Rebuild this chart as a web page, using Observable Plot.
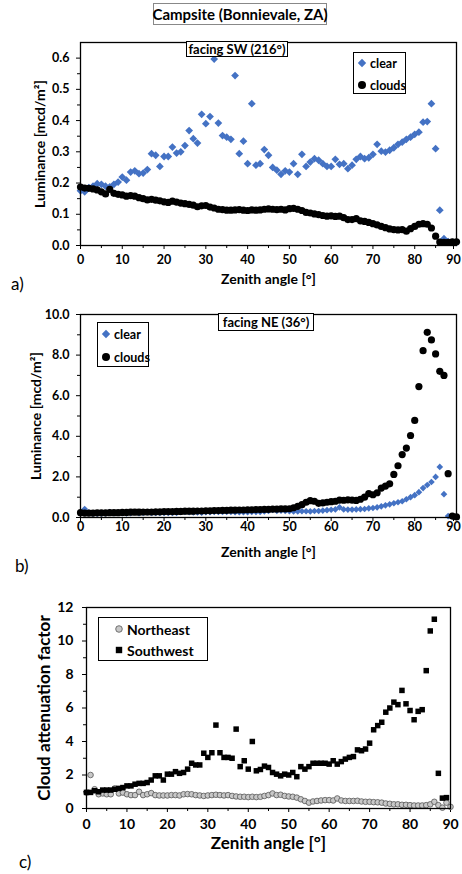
<!DOCTYPE html>
<html><head><meta charset="utf-8">
<script src="https://cdn.jsdelivr.net/npm/d3@7"></script>
<script src="https://cdn.jsdelivr.net/npm/@observablehq/plot@0.6"></script>
<style>
body{margin:0;background:#fff;font-family:Lato,sans-serif;color:#000;}
#wrap{position:relative;width:462px;height:874px;overflow:hidden;background:#fff;}
.panel{position:absolute;left:0;}
.box{position:absolute;background:#fff;border:1px solid #000;font-weight:bold;white-space:nowrap;text-align:center;box-sizing:border-box;display:flex;align-items:center;justify-content:center;}
.leg{position:absolute;background:#fff;border:1px solid #000;box-sizing:border-box;font-weight:bold;}
.row{position:absolute;white-space:nowrap;display:flex;align-items:center;height:16px;}
.row svg{margin-right:3px;}
.lab{position:absolute;font-size:17px;line-height:17px;}
</style></head><body><div id="wrap"></div>
<script>
const zenith = [0,1,2,3,4,5,6,7,8,9,10,11,12,13,14,15,16,17,18,19,20,21,22,23,24,25,26,27,28,29,30,31,32,33,34,35,36,37,38,39,40,41,42,43,44,45,46,47,48,49,50,51,52,53,54,55,56,57,58,59,60,61,62,63,64,65,66,67,68,69,70,71,72,73,74,75,76,77,78,79,80,81,82,83,84,85,86,87,88,89,90];

// a) facing SW, luminance [mcd/m2]
const swClear = [0.175,0.172,0.185,0.19,0.198,0.196,0.19,0.188,0.196,0.203,0.219,0.209,0.235,0.239,0.23,0.232,0.243,0.294,0.289,0.253,0.285,0.285,0.315,0.296,0.3,0.32,0.368,0.342,0.328,0.42,0.39,0.413,0.597,0.392,0.352,0.347,0.34,0.544,0.294,0.334,0.262,0.454,0.257,0.262,0.307,0.289,0.25,0.241,0.228,0.239,0.235,0.262,0.228,0.292,0.253,0.267,0.278,0.273,0.262,0.253,0.253,0.276,0.26,0.262,0.246,0.257,0.276,0.285,0.278,0.281,0.292,0.324,0.302,0.299,0.305,0.313,0.324,0.331,0.34,0.347,0.356,0.363,0.395,0.397,0.454,0.31,0.113,0.022,0.012,0.01,0.01];
const swClouds = [0.187,0.184,0.183,0.181,0.178,0.172,0.165,0.18,0.167,0.164,0.162,0.158,0.16,0.158,0.153,0.15,0.146,0.148,0.145,0.143,0.14,0.138,0.142,0.139,0.136,0.134,0.132,0.129,0.124,0.127,0.128,0.123,0.12,0.116,0.115,0.113,0.113,0.114,0.115,0.113,0.112,0.114,0.113,0.114,0.116,0.117,0.116,0.115,0.116,0.114,0.118,0.119,0.116,0.112,0.106,0.104,0.101,0.099,0.096,0.094,0.095,0.093,0.094,0.089,0.083,0.083,0.086,0.079,0.077,0.074,0.07,0.066,0.061,0.057,0.053,0.051,0.05,0.051,0.046,0.054,0.061,0.068,0.07,0.068,0.056,0.03,0.011,0.01,0.01,0.012,0.012];

// b) facing NE, luminance [mcd/m2]
const neClear = [0.22,0.42,0.25,0.19,0.19,0.19,0.2,0.27,0.21,0.22,0.21,0.2,0.21,0.26,0.21,0.23,0.25,0.22,0.22,0.22,0.23,0.23,0.23,0.23,0.26,0.27,0.26,0.25,0.25,0.24,0.26,0.26,0.28,0.27,0.27,0.28,0.27,0.26,0.26,0.26,0.26,0.27,0.27,0.27,0.3,0.32,0.37,0.33,0.34,0.32,0.31,0.3,0.3,0.31,0.31,0.3,0.32,0.32,0.34,0.36,0.38,0.4,0.5,0.4,0.39,0.39,0.4,0.41,0.42,0.45,0.47,0.5,0.55,0.6,0.65,0.7,0.75,0.8,0.9,1.0,1.1,1.25,1.45,1.6,1.75,2.0,2.49,1.15,0.07,0.05,0.02];
const neClouds = [0.24,0.22,0.22,0.22,0.23,0.23,0.23,0.24,0.24,0.24,0.25,0.25,0.26,0.26,0.26,0.27,0.27,0.27,0.28,0.28,0.29,0.29,0.29,0.3,0.3,0.31,0.31,0.31,0.32,0.32,0.33,0.33,0.34,0.34,0.35,0.35,0.36,0.36,0.37,0.37,0.38,0.38,0.39,0.39,0.4,0.4,0.41,0.41,0.42,0.42,0.43,0.48,0.55,0.63,0.75,0.83,0.8,0.7,0.72,0.75,0.78,0.8,0.86,0.85,0.87,0.86,0.84,0.9,1.0,1.18,1.12,1.22,1.45,1.55,1.66,2.12,2.55,3.1,3.42,4.04,4.78,6.45,8.22,9.12,8.75,8.06,7.2,7.0,2.16,0.07,0.03];

// c) cloud attenuation factor
const attNE = [0.95,2.0,1.15,0.85,0.9,0.85,0.85,1.2,0.9,0.95,0.85,0.8,0.8,1.0,0.8,0.85,0.92,0.8,0.78,0.78,0.78,0.8,0.8,0.78,0.85,0.86,0.85,0.8,0.78,0.75,0.78,0.8,0.82,0.8,0.78,0.8,0.75,0.72,0.7,0.7,0.68,0.7,0.68,0.7,0.75,0.8,0.9,0.8,0.82,0.75,0.72,0.7,0.65,0.55,0.45,0.35,0.42,0.45,0.48,0.5,0.5,0.48,0.6,0.48,0.45,0.45,0.45,0.46,0.42,0.4,0.4,0.38,0.37,0.35,0.3,0.28,0.25,0.25,0.22,0.22,0.2,0.18,0.18,0.18,0.2,0.25,0.4,0.2,0.05,0.35,0.1];
const attSW = [0.96,0.96,1.06,1.0,1.1,1.1,1.1,1.15,1.2,1.25,1.35,1.35,1.45,1.5,1.5,1.55,1.7,1.95,1.95,1.7,2.05,2.05,2.2,2.1,2.15,2.35,2.7,2.6,2.6,3.3,3.05,3.33,4.98,3.33,3.05,3.05,3.0,4.74,2.5,2.85,2.35,4.0,2.25,2.33,2.53,2.45,2.15,2.05,1.95,2.05,2.0,2.15,1.9,2.5,2.35,2.5,2.7,2.7,2.7,2.7,2.65,2.85,2.65,2.8,2.95,3.05,3.1,3.5,3.45,3.55,3.9,4.7,4.95,5.15,5.75,6.0,6.35,6.2,7.05,6.25,5.85,5.3,5.8,5.9,8.23,10.6,11.3,2.1,0.62,0.65,null];

const xMajor = [0,10,20,30,40,50,60,70,80];
const xLast = [90];
const xMinor = [5,15,25,35,45,55,65,75,85];
const aMajor = [0,0.1,0.2,0.3,0.4,0.5,0.6];
const aMinor = [0.05,0.15,0.25,0.35,0.45,0.55];
const bMajor = [0,2,4,6,8,10];
const bMinor = [1,3,5,7,9];
const cMajor = [0,2,4,6,8,10,12];
const cMinor = [1,3,5,7,9,11];

const BLUE = "#4472C4";
const FONT = "Lato, sans-serif";
const tbl = vals => zenith.map((z, i) => ({z, v: vals[i]})).filter(d => d.v != null);

const style = {fontFamily: FONT, fontWeight: "bold", fontSize: "12.5px", color: "#000", background: "transparent", overflow: "visible"};

const A = Plot.plot({
  width: 462, height: 290, marginLeft: 80, marginRight: 6, marginTop: 42, marginBottom: 45,
  style,
  x: {domain: [0, 90], label: null},
  y: {domain: [0, 0.65], label: null},
  marks: [
    Plot.axisX({ticks: xMinor, tickSize: 3, tickFormat: () => "", label: null}),
    Plot.axisX({ticks: xMajor, tickSize: 4, tickPadding: 6, label: null}),
    Plot.axisX({ticks: xLast, tickSize: 4, tickPadding: 6, dx: -3, label: null}),
    Plot.axisY({ticks: aMinor, tickSize: 3, tickFormat: () => "", label: null}),
    Plot.axisY({ticks: aMajor, tickSize: 4, tickPadding: 7, tickFormat: d => d.toFixed(1), label: null}),
    Plot.dot(tbl(swClear), {x: "z", y: "v", symbol: "diamond2", r: 3.5, fill: BLUE, stroke: "none"}),
    Plot.dot(tbl(swClouds), {x: "z", y: "v", r: 3.6, fill: "#000", stroke: "none"}),
    Plot.frame({stroke: "#000", strokeWidth: 1.3}),
    Plot.text(["Zenith angle [°]"], {text: d => d, frameAnchor: "bottom", dy: 38, fontSize: 14}),
    Plot.text(["Luminance [mcd/m²]"], {text: d => d, frameAnchor: "left", dx: -40, rotate: -90, textAnchor: "middle", fontSize: 14})
  ]
});

const B = Plot.plot({
  width: 462, height: 290, marginLeft: 80, marginRight: 6, marginTop: 24, marginBottom: 63,
  style,
  x: {domain: [0, 90], label: null},
  y: {domain: [0, 10], label: null},
  marks: [
    Plot.axisX({ticks: xMinor, tickSize: 3, tickFormat: () => "", label: null}),
    Plot.axisX({ticks: xMajor, tickSize: 4, tickPadding: 1, label: null}),
    Plot.axisX({ticks: xLast, tickSize: 4, tickPadding: 1, dx: -3, label: null}),
    Plot.axisY({ticks: bMinor, tickSize: 3, tickFormat: () => "", label: null}),
    Plot.axisY({ticks: bMajor, tickSize: 4, tickPadding: 7, tickFormat: d => d.toFixed(1), label: null}),
    Plot.dot(tbl(neClear), {x: "z", y: "v", symbol: "diamond2", r: 3.0, fill: BLUE, stroke: "none"}),
    Plot.dot(tbl(neClouds), {x: "z", y: "v", r: 3.6, fill: "#000", stroke: "none"}),
    Plot.frame({stroke: "#000", strokeWidth: 1.3}),
    Plot.text(["Zenith angle [°]"], {text: d => d, frameAnchor: "bottom", dy: 39, fontSize: 14}),
    Plot.text(["Luminance [mcd/m²]"], {text: d => d, frameAnchor: "left", dx: -44, rotate: -90, textAnchor: "middle", fontSize: 14})
  ]
});

const C = Plot.plot({
  width: 462, height: 294, marginLeft: 86, marginRight: 12, marginTop: 27, marginBottom: 66,
  style: {...style, fontSize: "14px"},
  x: {domain: [0, 90], label: null},
  y: {domain: [0, 12], label: null},
  marks: [
    Plot.axisX({ticks: xMinor, tickSize: 3, tickFormat: () => "", label: null}),
    Plot.axisX({ticks: [...xMajor, ...xLast], tickSize: 4, tickPadding: 7, label: null}),
    Plot.axisY({ticks: cMinor, tickSize: 3, tickFormat: () => "", label: null}),
    Plot.axisY({ticks: cMajor, tickSize: 4, tickPadding: 9, label: null}),
    Plot.dot(tbl(attNE), {x: "z", y: "v", r: 2.8, fill: "#c8c8c8", stroke: "#555", strokeWidth: 0.8}),
    Plot.dot(tbl(attSW), {x: "z", y: "v", symbol: "square", r: 3.1, fill: "#000", stroke: "none"}),
    Plot.frame({stroke: "#000", strokeWidth: 1.3}),
    Plot.text(["Zenith angle [°]"], {text: d => d, frameAnchor: "bottom", dy: 40, fontSize: 17}),
    Plot.text(["Cloud attenuation factor"], {text: d => d, frameAnchor: "left", dx: -42, rotate: -90, textAnchor: "middle", fontSize: 17})
  ]
});

const wrap = document.getElementById("wrap");
[[A, 0], [B, 290], [C, 580]].forEach(([p, top]) => {
  p.classList.add("panel");
  p.style.top = top + "px";
  wrap.appendChild(p);
});

function el(cls, css, html) {
  const d = document.createElement("div");
  d.className = cls;
  Object.assign(d.style, css);
  d.innerHTML = html;
  wrap.appendChild(d);
  return d;
}
const mk = {
  diamond: c => `<svg width="10" height="10" viewBox="-5 -5 10 10"><polygon points="0,-4.2 4.2,0 0,4.2 -4.2,0" fill="${c}"/></svg>`,
  circle: (c, s) => `<svg width="10" height="10" viewBox="-5 -5 10 10"><circle r="${s ? 3.3 : 4}" fill="${c}" ${s ? 'stroke="#555" stroke-width="0.8"' : ''}/></svg>`,
  square: c => `<svg width="10" height="10" viewBox="-5 -5 10 10"><rect x="-3.2" y="-3.2" width="6.4" height="6.4" fill="${c}"/></svg>`
};

// titles
el("box", {left: "153px", top: "3px", width: "174px", height: "22px", fontSize: "15px", border: "1px solid #888"}, "Campsite (Bonnievale, ZA)");
el("box", {left: "186px", top: "41px", width: "102px", height: "16px", fontSize: "13px"}, "facing SW (216°)");
el("box", {left: "218px", top: "313px", width: "96px", height: "18px", fontSize: "13px"}, "facing NE (36°)");

// legends
const la = el("leg", {left: "353px", top: "52px", width: "53px", height: "42px", fontSize: "12.5px"}, "");
la.innerHTML = `<div class="row" style="left:3px;top:2px">${mk.diamond(BLUE)}clear</div><div class="row" style="left:3px;top:24px">${mk.circle("#000")}clouds</div>`;
const lb = el("leg", {left: "97px", top: "322px", width: "52px", height: "45px", fontSize: "12.5px"}, "");
lb.innerHTML = `<div class="row" style="left:3px;top:3px">${mk.diamond(BLUE)}clear</div><div class="row" style="left:3px;top:26px">${mk.circle("#000")}clouds</div>`;
const lc = el("leg", {left: "98px", top: "617px", width: "110px", height: "44px", fontSize: "14px"}, "");
lc.innerHTML = `<div class="row" style="left:15px;top:3px">${mk.circle("#c8c8c8", true)}Northeast</div><div class="row" style="left:15px;top:24px">${mk.square("#000")}Southwest</div>`;

// panel letters
el("lab", {left: "11px", top: "275px"}, "a)");
el("lab", {left: "15px", top: "557px"}, "b)");
el("lab", {left: "19px", top: "853px"}, "c)");
</script></body></html>
